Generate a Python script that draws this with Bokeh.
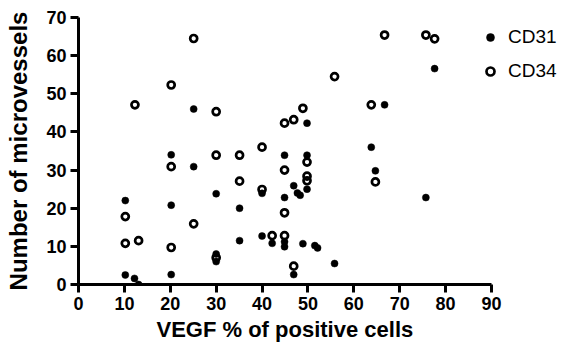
from bokeh.plotting import figure
from bokeh.models import Range1d, Legend, LegendItem, FixedTicker, Title
from bokeh.embed import file_html
from bokeh.resources import INLINE

# CD31 (filled circles)
cd31_x = [10.2, 10.2, 12.2, 13.1, 20.2, 20.2, 20.2, 25.1, 25.1, 30.0, 30.0, 30.0,
          35.1, 35.1, 40.0, 40.0, 42.2, 44.9, 44.9, 44.9, 44.9, 46.9, 46.9, 47.7,
          48.3, 48.9, 49.8, 49.8, 49.8, 51.5, 52.1, 55.8, 63.8, 64.7, 66.7, 75.7, 77.6]
cd31_y = [22.0, 2.5, 1.6, 0.0, 34.0, 20.8, 2.6, 46.0, 30.9, 23.8, 8.0, 6.0,
          20.0, 11.5, 23.9, 12.7, 10.8, 33.9, 22.8, 11.2, 9.9, 25.9, 2.6, 24.0,
          23.4, 10.7, 42.3, 33.9, 25.0, 10.2, 9.6, 5.5, 36.0, 29.8, 47.1, 22.8, 56.6]

# CD34 (open circles)
cd34_x = [10.2, 10.2, 12.3, 13.1, 20.2, 20.2, 20.2, 25.1, 25.1, 30.0, 30.0, 30.0,
          35.1, 35.1, 40.0, 40.0, 42.2, 44.9, 44.9, 44.9, 44.9, 46.9, 46.9, 48.9,
          49.8, 49.8, 49.8, 55.8, 63.8, 64.7, 66.7, 75.7, 77.6]
cd34_y = [17.8, 10.8, 47.1, 11.5, 52.3, 30.9, 9.7, 64.5, 15.9, 45.3, 33.9, 7.0,
          33.9, 27.1, 36.0, 24.9, 12.8, 42.3, 30.0, 18.8, 12.8, 43.2, 4.8, 46.2,
          32.1, 28.4, 27.2, 54.5, 47.1, 26.9, 65.4, 65.4, 64.4]

x_ticks = [0, 10, 20, 30, 40, 50, 60, 70, 80, 90]
y_ticks = [0, 10, 20, 30, 40, 50, 60, 70]

FONT = "Liberation Sans"

W, H = 559, 343
LEFT = 78
X_AXIS_END_PX = 491  # pixel where 90 lies
x_max = 90 * (W - LEFT) / (X_AXIS_END_PX - LEFT)

p = figure(width=W, height=H, output_backend="svg", toolbar_location=None,
           x_range=Range1d(0, x_max), y_range=Range1d(0, 70),
           min_border_left=LEFT, min_border_right=0, min_border_top=17,
           min_border_bottom=0)

p.outline_line_color = None
p.xgrid.visible = False
p.ygrid.visible = False
p.background_fill_color = "white"
p.border_fill_color = "white"

r1 = p.scatter(cd31_x, cd31_y, marker="circle", size=7, fill_color="black",
               line_color="black", line_width=0.5)
r2 = p.scatter(cd34_x, cd34_y, marker="circle", size=7, fill_color=None,
               line_color="black", line_width=2.7)

for ax, ticks in ((p.xaxis, x_ticks), (p.yaxis, y_ticks)):
    ax.ticker = FixedTicker(ticks=ticks)
    ax.minor_tick_line_color = None
    ax.axis_line_width = 3
    ax.major_tick_line_width = 3
    ax.major_tick_out = 8
    ax.major_tick_in = 0
    ax.major_label_text_font = FONT
    ax.major_label_text_font_style = "bold"
    ax.major_label_text_font_size = "18px"
    ax.major_label_text_color = "black"
    ax.axis_label_text_font = FONT
    ax.axis_label_text_font_style = "bold"
    ax.axis_label_text_color = "black"

p.xaxis.bounds = (0, 90)
p.xaxis.major_label_standoff = 4
p.yaxis.axis_label = "Number of microvessels"
p.yaxis.axis_label_text_font_size = "24px"
p.yaxis.major_label_standoff = 4
p.yaxis.axis_label_standoff = 11

xtitle = Title(text="VEGF % of positive cells", align="left", offset=78,
               standoff=4, text_font=FONT, text_font_style="bold",
               text_font_size="22px", text_color="black")
p.add_layout(xtitle, "below")

legend = Legend(items=[LegendItem(label="CD31", renderers=[r1]),
                       LegendItem(label="CD34", renderers=[r2])],
                location=(402, 202), orientation="vertical",
                border_line_color=None, background_fill_alpha=0,
                padding=0, margin=0, spacing=12,
                glyph_width=20, glyph_height=20, label_height=20,
                label_standoff=8, label_text_font=FONT,
                label_text_font_size="19px", label_text_color="black")
p.add_layout(legend)

open("out.html", "w").write(file_html(p, INLINE))
